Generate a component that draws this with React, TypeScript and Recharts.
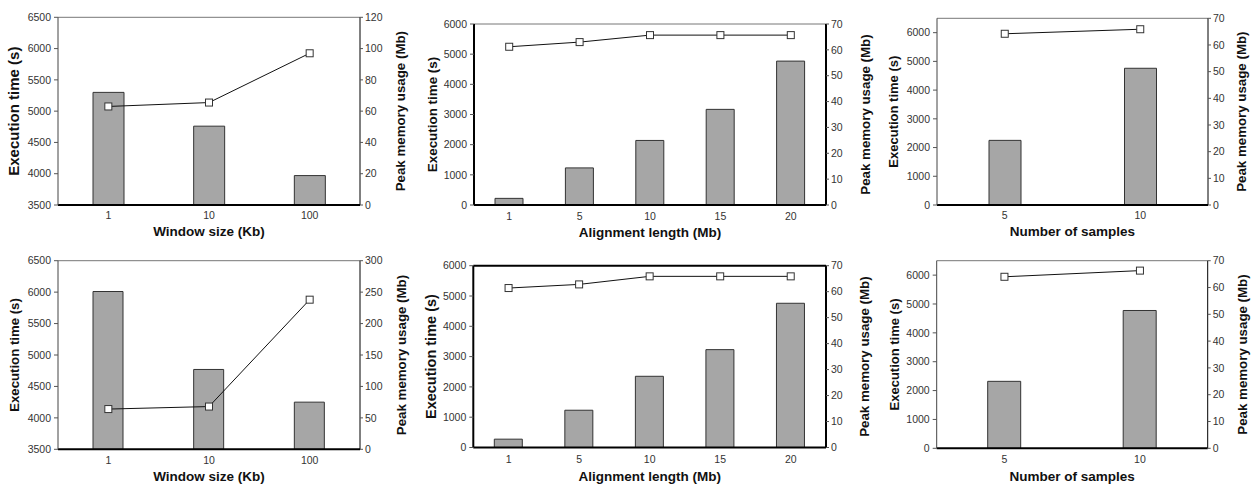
import { ComposedChart, Bar, Line, XAxis, YAxis, ReferenceLine, Label } from "recharts";

// categories
const windowSizes = ["1", "10", "100"];
const alignLengths = ["1", "5", "10", "15", "20"];
const sampleCounts = ["5", "10"];

// top row
const topWindowTime = [5300, 4760, 3970];
const topWindowMem = [63, 65.5, 97];
const topAlignTime = [220, 1230, 2140, 3170, 4770];
const topAlignMem = [61.2, 63, 65.7, 65.7, 65.7];
const topSampleTime = [2250, 4760];
const topSampleMem = [64.2, 65.9];

// bottom row
const bottomWindowTime = [6010, 4770, 4250];
const bottomWindowMem = [64, 68, 238];
const bottomAlignTime = [275, 1230, 2350, 3230, 4760];
const bottomAlignMem = [61.4, 62.8, 65.9, 65.9, 65.9];
const bottomSampleTime = [2320, 4775];
const bottomSampleMem = [64, 66.3];

// tick labels
const windowTimeTicks = [3500, 4000, 4500, 5000, 5500, 6000, 6500];
const thousandTicks = [0, 1000, 2000, 3000, 4000, 5000, 6000];
const memTicks120 = [0, 20, 40, 60, 80, 100, 120];
const memTicks300 = [0, 50, 100, 150, 200, 250, 300];
const memTicks70 = [0, 10, 20, 30, 40, 50, 60, 70];

const FONT = "'Liberation Sans', Arial, sans-serif";
const TICK = { fontSize: 10.5, fill: "#333", fontFamily: FONT };

function SquareDot(props: any) {
  const { cx, cy, index } = props;
  if (cx == null || cy == null) return null;
  return (
    <rect key={`dot-${index}`} x={cx - 3.5} y={cy - 3.5} width={7} height={7} fill="#fff" stroke="#333" strokeWidth={1} />
  );
}

function verticalTitle(value: string, side: "left" | "right", offset: number, size: number) {
  return (props: any) => {
    const vb = props.viewBox || {};
    const cx = side === "left" ? vb.x + offset : vb.x + vb.width - offset;
    const cy = vb.y + vb.height / 2;
    return (
      <text
        x={cx}
        y={cy}
        transform={`rotate(-90 ${cx} ${cy})`}
        textAnchor="middle"
        dominantBaseline="central"
        fontFamily={FONT}
        fontWeight="bold"
        fontSize={size}
        fill="#111"
      >
        {value}
      </text>
    );
  };
}

interface PanelProps {
  left: number;
  top: number;
  width: number;
  height: number;
  plotTop: number;
  axisHeight: number;
  leftWidth: number;
  rightWidth: number;
  categories: string[];
  times: number[];
  mems: number[];
  timeDomain: [number, number];
  timeTicks: number[];
  memDomain: [number, number];
  memTicks: number[];
  barSize: number;
  xTitle: string;
  xTitleOffset: number;
  xTickMargin: number;
  leftTitleOffset: number;
  leftTitleSize: number;
  rightTitleOffset: number;
  heavy?: boolean;
  heavyTop?: boolean;
}

function Panel(p: PanelProps) {
  const data = p.categories.map((name, i) => ({ name, time: p.times[i], mem: p.mems[i] }));
  const sideWidth = p.heavy ? 2 : 1;
  return (
    <div style={{ position: "absolute", left: p.left, top: p.top }}>
      <ComposedChart
        width={p.width}
        height={p.height}
        data={data}
        margin={{ top: p.plotTop, right: 0, left: 0, bottom: 0 }}
      >
        <XAxis
          dataKey="name"
          height={p.axisHeight}
          tickLine={false}
          tickSize={0}
          tickMargin={p.xTickMargin}
          interval={0}
          tick={TICK}
          axisLine={{ stroke: "#000", strokeWidth: 2 }}
        >
          <Label
            value={p.xTitle}
            position="insideBottom"
            offset={p.xTitleOffset}
            style={{ fontFamily: FONT, fontWeight: "bold", fontSize: 13.5, fill: "#111" }}
          />
        </XAxis>
        <YAxis
          yAxisId="left"
          orientation="left"
          width={p.leftWidth}
          domain={p.timeDomain}
          ticks={p.timeTicks}
          allowDataOverflow
          tickSize={4}
          tickMargin={3}
          tick={TICK}
          tickLine={{ stroke: "#555" }}
          axisLine={{ stroke: p.heavy ? "#000" : "#444", strokeWidth: sideWidth }}
        >
          <Label content={verticalTitle("Execution time (s)", "left", p.leftTitleOffset, p.leftTitleSize)} />
        </YAxis>
        <YAxis
          yAxisId="right"
          orientation="right"
          width={p.rightWidth}
          domain={p.memDomain}
          ticks={p.memTicks}
          allowDataOverflow
          tickSize={3}
          tickMargin={2}
          tick={TICK}
          tickLine={{ stroke: "#555" }}
          axisLine={{ stroke: "#000", strokeWidth: sideWidth }}
        >
          <Label content={verticalTitle("Peak memory usage (Mb)", "right", p.rightTitleOffset, 13.3)} />
        </YAxis>
        <ReferenceLine
          yAxisId="left"
          y={p.timeDomain[1]}
          stroke={p.heavyTop ? "#000" : "#777"}
          strokeWidth={p.heavyTop ? 2 : 1}
        />
        <Bar
          yAxisId="left"
          dataKey="time"
          fill="#a6a6a6"
          stroke="#333"
          strokeWidth={1}
          barSize={p.barSize}
          isAnimationActive={false}
        />
        <Line
          yAxisId="right"
          dataKey="mem"
          type="linear"
          stroke="#111"
          strokeWidth={1}
          dot={SquareDot}
          activeDot={false}
          isAnimationActive={false}
        />
      </ComposedChart>
    </div>
  );
}

export default function App() {
  return (
    <div style={{ position: "absolute", left: 0, top: 0, width: 1253, height: 485, background: "#fff" }}>
      <Panel
        left={0} top={0} width={420} height={240} plotTop={17.3} axisHeight={35}
        leftWidth={58} rightWidth={60}
        categories={windowSizes} times={topWindowTime} mems={topWindowMem}
        timeDomain={[3500, 6500]} timeTicks={windowTimeTicks}
        memDomain={[0, 120]} memTicks={memTicks120}
        barSize={31} xTitle="Window size (Kb)" xTitleOffset={4} xTickMargin={7}
        leftTitleOffset={14} leftTitleSize={15} rightTitleOffset={19}
      />
      <Panel
        left={420} top={0} width={460} height={240} plotTop={24} axisHeight={35}
        leftWidth={54} rightWidth={54}
        categories={alignLengths} times={topAlignTime} mems={topAlignMem}
        timeDomain={[0, 6000]} timeTicks={thousandTicks}
        memDomain={[0, 70]} memTicks={memTicks70}
        barSize={28} xTitle="Alignment length (Mb)" xTitleOffset={3} xTickMargin={7.5}
        leftTitleOffset={12} leftTitleSize={13.4} rightTitleOffset={15} heavy
      />
      <Panel
        left={880} top={0} width={373} height={240} plotTop={18.3} axisHeight={35}
        leftWidth={57} rightWidth={45}
        categories={sampleCounts} times={topSampleTime} mems={topSampleMem}
        timeDomain={[0, 6500]} timeTicks={thousandTicks}
        memDomain={[0, 70]} memTicks={memTicks70}
        barSize={32} xTitle="Number of samples" xTitleOffset={4} xTickMargin={7}
        leftTitleOffset={14} leftTitleSize={13} rightTitleOffset={11}
      />
      <Panel
        left={0} top={240} width={420} height={245} plotTop={20.7} axisHeight={35.7}
        leftWidth={58} rightWidth={60}
        categories={windowSizes} times={bottomWindowTime} mems={bottomWindowMem}
        timeDomain={[3500, 6500]} timeTicks={windowTimeTicks}
        memDomain={[0, 300]} memTicks={memTicks300}
        barSize={30} xTitle="Window size (Kb)" xTitleOffset={4} xTickMargin={7}
        leftTitleOffset={14} leftTitleSize={13.2} rightTitleOffset={19}
      />
      <Panel
        left={420} top={240} width={460} height={245} plotTop={25.7} axisHeight={37.5}
        leftWidth={53.3} rightWidth={54}
        categories={alignLengths} times={bottomAlignTime} mems={bottomAlignMem}
        timeDomain={[0, 6000]} timeTicks={thousandTicks}
        memDomain={[0, 70]} memTicks={memTicks70}
        barSize={28} xTitle="Alignment length (Mb)" xTitleOffset={4} xTickMargin={8}
        leftTitleOffset={11} leftTitleSize={14.5} rightTitleOffset={15} heavy heavyTop
      />
      <Panel
        left={880} top={240} width={373} height={245} plotTop={20.7} axisHeight={36.7}
        leftWidth={56.7} rightWidth={45.3}
        categories={sampleCounts} times={bottomSampleTime} mems={bottomSampleMem}
        timeDomain={[0, 6500]} timeTicks={thousandTicks}
        memDomain={[0, 70]} memTicks={memTicks70}
        barSize={33} xTitle="Number of samples" xTitleOffset={4} xTickMargin={7.5}
        leftTitleOffset={14} leftTitleSize={13} rightTitleOffset={11}
      />
    </div>
  );
}
